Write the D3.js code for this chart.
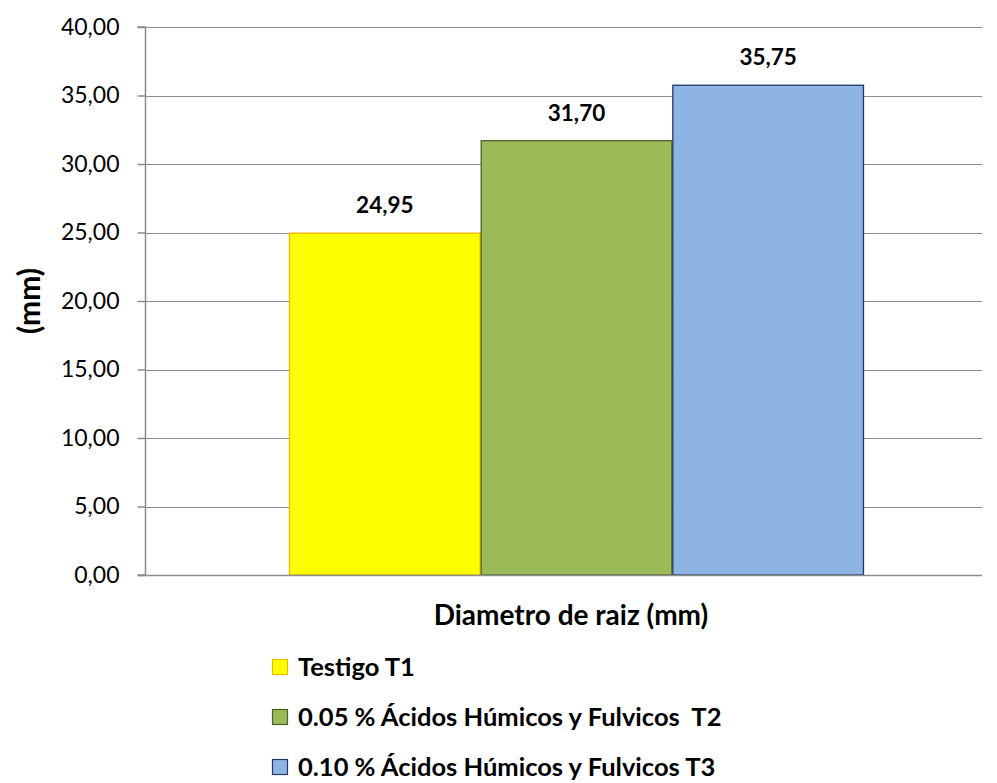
<!DOCTYPE html>
<html>
<head>
<meta charset="utf-8">
<script src="https://cdn.jsdelivr.net/npm/d3@7"></script>
<style>
  html, body { margin: 0; padding: 0; background: #fff; }
  svg text { font-family: Lato, "Open Sans", sans-serif; }
</style>
</head>
<body>
<svg id="chart" width="997" height="783"></svg>
<script>
// Root diameter by treatment
const categories = ["Testigo T1", "0.05 % Ácidos Húmicos y Fulvicos  T2", "0.10 % Ácidos Húmicos y Fulvicos T3"];
const values = [24.95, 31.70, 35.75];
const valueLabels = ["24,95", "31,70", "35,75"];
const yTicks = [0, 5, 10, 15, 20, 25, 30, 35, 40];
const fills = ["#FFFF00", "#9BBB59", "#8EB4E3"];
const strokes = ["#F2B800", "#4F6228", "#1F3864"];

const svg = d3.select("#chart");
const plot = { left: 146, right: 982, top: 27, bottom: 575 };

const y = d3.scaleLinear().domain([0, 40]).range([plot.bottom, plot.top]);
const x = d3.scaleBand().domain(categories).range([289, 864]).paddingInner(0).paddingOuter(0);

// Gridlines
svg.append("g")
  .selectAll("line")
  .data(yTicks.filter(d => d > 0))
  .join("line")
  .attr("x1", plot.left).attr("x2", plot.right)
  .attr("y1", d => Math.round(y(d)) + 0.5).attr("y2", d => Math.round(y(d)) + 0.5)
  .attr("stroke", "#8C8C8C").attr("stroke-width", 1.2);

// Y axis
const yAxis = d3.axisLeft(y)
  .tickValues(yTicks)
  .tickSize(8)
  .tickPadding(18)
  .tickFormat(d => d3.format(".2f")(d).replace(".", ","));
const ya = svg.append("g").attr("transform", `translate(${plot.left - 0.5},0)`).call(yAxis);
ya.select(".domain").attr("stroke", "#8C8C8C").attr("stroke-width", 1.5)
  .attr("d", `M-8,${plot.top}H0V${plot.bottom}H-8`);
ya.selectAll(".tick line").attr("stroke", "#8C8C8C").attr("stroke-width", 1.5);
ya.selectAll(".tick text").attr("font-size", 23).attr("fill", "#000")
  .attr("font-family", "Lato, 'Open Sans', sans-serif");

// Bars
svg.append("g")
  .selectAll("rect")
  .data(values)
  .join("rect")
  .attr("x", (d, i) => x(categories[i]) + 0.5)
  .attr("width", x.bandwidth() - 1)
  .attr("y", d => y(d))
  .attr("height", d => y(0) - y(d))
  .attr("fill", (d, i) => fills[i])
  .attr("stroke", (d, i) => strokes[i])
  .attr("stroke-width", 1.3);

// X baseline
svg.append("line")
  .attr("x1", plot.left - 8).attr("x2", plot.right)
  .attr("y1", plot.bottom + 0.5).attr("y2", plot.bottom + 0.5)
  .attr("stroke", "#8C8C8C").attr("stroke-width", 1.5);

// Value labels
svg.append("g")
  .selectAll("text")
  .data(values)
  .join("text")
  .attr("x", (d, i) => x(categories[i]) + x.bandwidth() / 2)
  .attr("y", d => y(d) - 20)
  .attr("text-anchor", "middle")
  .attr("font-size", 22.5).attr("font-weight", "bold")
  .text((d, i) => valueLabels[i]);

// Axis titles
svg.append("text")
  .attr("x", 571).attr("y", 625)
  .attr("text-anchor", "middle")
  .attr("font-size", 28).attr("font-weight", "bold")
  .text("Diametro de raiz (mm)");

svg.append("text")
  .attr("transform", "translate(40,301) rotate(-90)")
  .attr("text-anchor", "middle")
  .attr("font-size", 30).attr("font-weight", "bold")
  .text("(mm)");

// Legend
const legend = svg.append("g");
const rowsY = [676, 726, 776];
categories.forEach((c, i) => {
  legend.append("rect")
    .attr("x", 272.5).attr("y", rowsY[i] - 16.5)
    .attr("width", 15).attr("height", 15)
    .attr("fill", fills[i]).attr("stroke", strokes[i]).attr("stroke-width", 1.2);
  legend.append("text")
    .attr("x", 298).attr("y", rowsY[i])
    .attr("font-size", 25.5).attr("font-weight", "bold")
    .attr("xml:space", "preserve")
    .style("white-space", "pre")
    .text(c);
});
</script>
</body>
</html>
